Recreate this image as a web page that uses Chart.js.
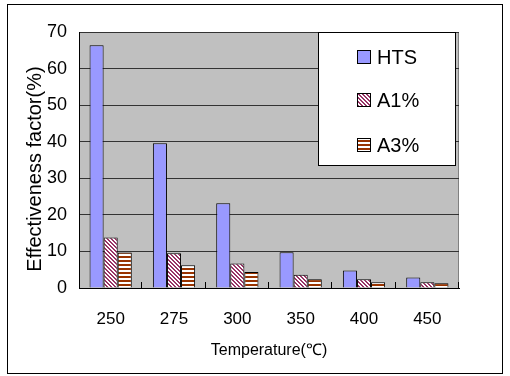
<!DOCTYPE html>
<html><head><meta charset="utf-8">
<script src="https://cdn.jsdelivr.net/npm/chart.js@4.4.0/dist/chart.umd.min.js"></script>
<style>html,body{margin:0;padding:0;background:#fff}canvas{display:block}</style>
</head><body>
<canvas id="c" width="510" height="376"></canvas>
<script>
const categories = ['250', '275', '300', '350', '400', '450'];
const seriesNames = ['HTS', 'A1%', 'A3%'];
const htsValues = [66.4, 39.6, 23.2, 9.8, 4.8, 2.9];
const a1Values = [13.8, 9.5, 6.7, 3.6, 2.4, 1.6];
const a3Values = [9.7, 6.2, 4.4, 2.4, 1.6, 1.3];
const yTickValues = [0, 10, 20, 30, 40, 50, 60, 70];
const xTitle = 'Temperature(℃)';
const yTitle = 'Effectiveness factor(%)';

const canvas = document.getElementById('c');
const mainCtx = canvas.getContext('2d');

function makePattern(kind) {
  const p = document.createElement('canvas');
  p.width = 8; p.height = 8;
  const g = p.getContext('2d');
  g.fillStyle = '#ffffff'; g.fillRect(0, 0, 8, 8);
  if (kind === 'diag') {
    g.fillStyle = '#993366';
    for (let y = 0; y < 8; y++) for (let x = 0; x < 8; x++) {
      if ((((x - y) % 4) + 4) % 4 < 2) g.fillRect(x, y, 1, 1);
    }
  } else {
    g.fillStyle = '#993300';
    for (let y = 0; y < 8; y++) if (y % 4 < 2) g.fillRect(0, y, 8, 1);
  }
  return mainCtx.createPattern(p, 'repeat');
}

const fills = ['#9999ff', makePattern('diag'), makePattern('horiz')];
const seriesValues = [htsValues, a1Values, a3Values];

const decor = {
  id: 'decor',
  afterLayout(chart) {
    const ys = chart.scales.y;
    ys.top += 9;
    ys.bottom += 9;
  },
  beforeDraw(chart) {
    const { ctx, chartArea: a } = chart;
    ctx.save();
    ctx.fillStyle = '#ffffff';
    ctx.fillRect(0, 0, chart.width, chart.height);
    ctx.fillStyle = '#c0c0c0';
    ctx.fillRect(a.left, a.top, a.right - a.left, a.bottom - a.top);
    ctx.strokeStyle = '#808080';
    ctx.lineWidth = 1;
    ctx.beginPath();
    ctx.moveTo(a.right - 0.5, a.top);
    ctx.lineTo(a.right - 0.5, a.bottom);
    ctx.stroke();
    ctx.strokeStyle = '#000000';
    ctx.strokeRect(7.5, 4.5, 495, 369);
    ctx.restore();
  },
  afterDatasetsDraw(chart) {
    const { ctx, chartArea: a } = chart;
    const xs = chart.scales.x;
    ctx.save();
    ctx.strokeStyle = '#000000';
    ctx.lineWidth = 1;
    ctx.beginPath();
    ctx.moveTo(a.left + 0.5, a.top);
    ctx.lineTo(a.left + 0.5, a.bottom);
    ctx.stroke();
    for (let i = 1; i <= categories.length; i++) {
      const px = Math.round(xs.getPixelForValue(i - 0.5)) - 0.5;
      ctx.beginPath();
      ctx.moveTo(px, a.bottom);
      ctx.lineTo(px, a.bottom - 6);
      ctx.stroke();
    }
    ctx.restore();
  },
  afterDraw(chart) {
    const ctx = chart.ctx;
    const box = { x: 318.5, y: 32.5, w: 137, h: 133 };
    ctx.save();
    ctx.fillStyle = '#ffffff';
    ctx.fillRect(box.x, box.y, box.w, box.h);
    ctx.strokeStyle = '#000000';
    ctx.lineWidth = 1;
    ctx.strokeRect(box.x, box.y, box.w, box.h);
    const rowY = [57, 100, 145];
    ctx.font = '20px "Liberation Sans", Arial, sans-serif';
    ctx.textBaseline = 'middle';
    ctx.textAlign = 'left';
    chart.data.datasets.forEach((ds, i) => {
      const y = rowY[i];
      ctx.fillStyle = ds.backgroundColor;
      ctx.fillRect(357, y - 6, 13, 13);
      ctx.strokeStyle = '#000000';
      ctx.strokeRect(357.5, y - 6.5, 13, 13);
      ctx.fillStyle = '#000000';
      ctx.fillText(ds.label, 377, y + 1);
    });
    ctx.restore();
  }
};

new Chart(canvas, {
  type: 'bar',
  data: {
    labels: categories,
    datasets: seriesNames.map((name, i) => ({
      label: name,
      data: seriesValues[i],
      backgroundColor: fills[i],
      borderColor: '#000000',
      borderWidth: 1,
      categoryPercentage: 0.667,
      barPercentage: 1.0
    }))
  },
  options: {
    responsive: false,
    animation: false,
    layout: { padding: { left: 0, right: 51, top: 32, bottom: 0 } },
    plugins: { legend: { display: false }, tooltip: { enabled: false } },
    scales: {
      x: {
        grid: { display: false, drawTicks: false },
        border: { display: true, color: '#000000', width: 1 },
        ticks: { color: '#000000', padding: 21, font: { family: '"Liberation Sans", Arial, sans-serif', size: 17 } },
        title: { display: true, text: xTitle, color: '#000000', padding: { top: 0, bottom: 16 }, font: { family: '"Liberation Sans", Arial, sans-serif', size: 16 } },
        afterFit(s) { s.height = 88; }
      },
      y: {
        min: 0, max: 70,
        afterBuildTicks(s) { s.ticks = yTickValues.map(v => ({ value: v })); },
        grid: { color: '#333333', lineWidth: 1, drawTicks: false },
        border: { display: false },
        ticks: { color: '#000000', padding: 12, font: { family: '"Liberation Sans", Arial, sans-serif', size: 18 } },
        title: { display: true, text: yTitle, color: '#000000', padding: { top: 23, bottom: 0 }, font: { family: '"Liberation Sans", Arial, sans-serif', size: 20 } },
        afterFit(s) { s.width = 79; }
      }
    }
  },
  plugins: [decor]
});
</script>
</body></html>
